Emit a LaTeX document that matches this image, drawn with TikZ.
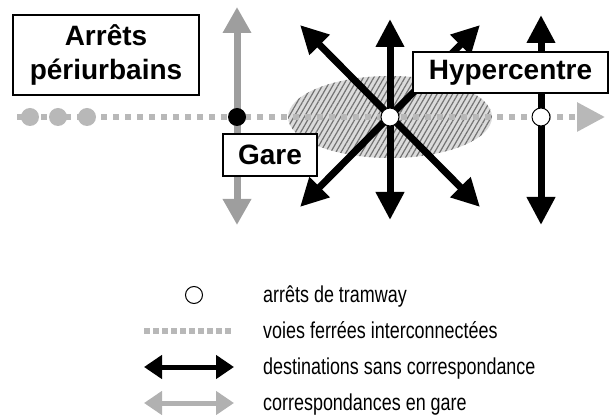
\documentclass[tikz,border=0pt]{standalone}
\usepackage{fontspec}
\setmainfont{Liberation Sans}
\newfontfamily\legendfont[FakeStretch=0.78]{Liberation Sans}
\usetikzlibrary{arrows.meta,positioning,patterns.meta}

\definecolor{railgray}{gray}{0.72}
\definecolor{arrowgray}{gray}{0.62}
\definecolor{hatchgray}{gray}{0.86}

\begin{document}
\begin{tikzpicture}
[
  x=1pt, y=-1pt,
  label box/.style={rectangle, draw=black, line width=2pt, fill=white,
    font=\fontsize{28}{33.6}\selectfont\bfseries, inner sep=0pt},
  tram stop/.style={circle, draw=black, line width=1pt, fill=white, minimum size=18pt, inner sep=0pt},
  gare stop/.style={circle, fill=black, minimum size=18pt, inner sep=0pt},
  rail stop/.style={circle, fill=railgray, minimum size=18pt, inner sep=0pt},
  rail/.style={draw=railgray, line width=6pt, dash pattern=on 6pt off 6pt},
  direct/.style={line width=7pt, black, {Triangle[width=27pt,length=28pt]}-{Triangle[width=27pt,length=28pt]}},
  transfer/.style={line width=7pt, arrowgray, {Triangle[width=27pt,length=26pt]}-{Triangle[width=27pt,length=26pt]}},
  legend text/.style={font=\legendfont\fontsize{23}{27}\selectfont, anchor=base west, inner sep=0pt}
]
 \useasboundingbox (0,0) rectangle (609,419);

 % hypercentre zone
 \fill[hatchgray] (390,117) ellipse [x radius=102pt, y radius=41pt];
 \fill[pattern={Lines[angle=60,distance=4.5pt,line width=1.2pt]}, pattern color=black!55]
   (390,117) ellipse [x radius=102pt, y radius=41pt];

 % rail line
 \coordinate (railW) at (17,117);
 \coordinate (railE) at (605,117);
 \draw[rail, -{Triangle[width=28pt,length=28pt]}] (railW) -- (railE);
 \foreach \x [count=\i] in {30,58,87}
   \node[rail stop] (periStop\i) at (\x,117) {};

 % station
 \coordinate (gareN) at (237,7);
 \coordinate (gareS) at (237,225);
 \draw[transfer] (gareN) -- (gareS);
 \node[gare stop] (gareStop) at (237,117) {};

 % tramway lines
 \coordinate (hyperN)  at (390,19);
 \coordinate (hyperS)  at (390,220);
 \coordinate (hyperNW) at (300,25);
 \coordinate (hyperSE) at (480,207);
 \coordinate (hyperNE) at (480,25);
 \coordinate (hyperSW) at (300,207);
 \coordinate (eastN)   at (541,15);
 \coordinate (eastS)   at (541,225);
 \draw[direct] (hyperN) -- (hyperS);
 \draw[direct] (hyperNW) -- (hyperSE);
 \draw[direct] (hyperNE) -- (hyperSW);
 \draw[direct] (eastN) -- (eastS);
 \node[tram stop] (hyperStop) at (390,117) {};
 \node[tram stop] (eastStop) at (541,117) {};

 % labels
 \node[label box, minimum width=186pt, minimum height=80pt, align=center] (periBox) at (106,55) {Arrêts\\périurbains};
 \node[label box, minimum width=94pt, minimum height=42pt] (gareBox) at (270,155) {Gare};
 \node[label box, minimum width=195pt, minimum height=41pt] (hyperBox) at (510.5,72.5) {Hypercentre};

 % legend
 \node[tram stop, minimum size=17pt] (legStop) at (194,295) {};
 \coordinate (legRailW) at (144,331);
 \coordinate (legRailE) at (232,331);
 \draw[draw=railgray, line width=6pt, dash pattern=on 6pt off 3pt] (legRailW) -- (legRailE);
 \coordinate (legDirW) at (144,367);
 \coordinate (legDirE) at (234,367);
 \draw[line width=5pt, {Triangle[width=23pt,length=18pt]}-{Triangle[width=23pt,length=18pt]}] (legDirW) -- (legDirE);
 \coordinate (legGareW) at (144,403);
 \coordinate (legGareE) at (234,403);
 \draw[line width=5pt, arrowgray!80, {Triangle[width=23pt,length=18pt]}-{Triangle[width=23pt,length=18pt]}] (legGareW) -- (legGareE);

 \node[legend text] (legStopText) at (263,302) {arrêts de tramway};
 \node[legend text, below=36pt of legStopText.base west, anchor=base west] (legRailText) {voies ferrées interconnectées};
 \node[legend text, below=36pt of legRailText.base west, anchor=base west] (legDirText) {destinations sans correspondance};
 \node[legend text, below=36pt of legDirText.base west, anchor=base west] (legGareText) {correspondances en gare};
\end{tikzpicture}
\end{document}
